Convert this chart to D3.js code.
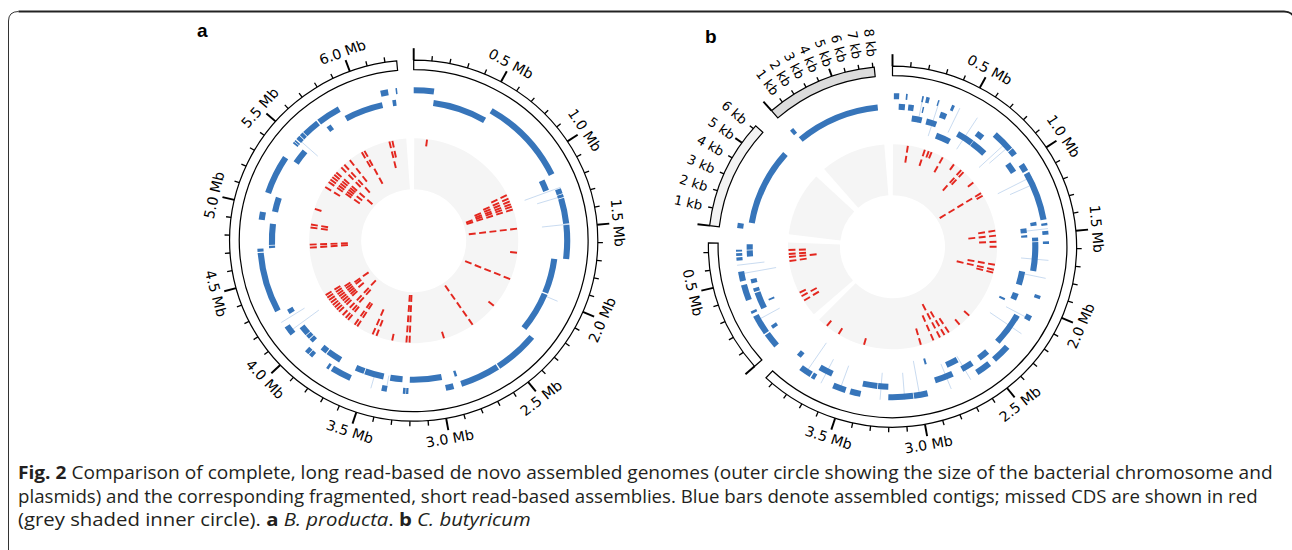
<!DOCTYPE html>
<html>
<head>
<meta charset="utf-8">
<script src="https://cdn.jsdelivr.net/npm/d3@7"></script>
<style>
  body { margin: 0; background: #fff; }
  svg { display: block; }
  text { white-space: pre; }
</style>
</head>
<body>
<svg id="fig" width="1292" height="550"></svg>
<script>
// ---------- panel a: B. producta, one chromosome (Mb) ----------
const seqA = ["chr"];
const seqLenA = [6.265];
const seqUnitA = ["Mb"];
// assembled contigs: [start, end, track]
const contigsA = [
  [0.000,0.134,0],[0.141,0.530,1],[0.535,1.130,0],[1.139,1.219,1],
  [1.236,1.272,0],[1.277,1.298,0],[1.303,1.475,0],[1.484,1.713,0],
  [1.722,1.978,1],[1.987,2.278,1],[2.291,2.587,0],[2.596,2.861,0],
  [2.870,2.888,1],[2.914,2.967,0],[2.979,3.207,1],[3.214,3.229,0],
  [3.233,3.250,0],[3.259,3.347,1],[3.356,3.391,0],[3.395,3.532,1],
  [3.538,3.603,1],[3.608,3.744,0],[3.727,3.833,1],[3.762,3.780,0],
  [3.841,3.886,1],[3.894,3.921,0],[3.926,3.956,0],[3.960,3.991,1],
  [3.997,4.027,1],[4.032,4.097,1],[4.095,4.160,0],[4.221,4.256,1],
  [4.278,4.687,0],[4.694,4.716,0],[4.716,4.733,1],[4.739,4.892,1],
  [4.910,4.963,0],[4.981,5.087,1],[5.095,5.360,0],[5.369,5.475,1],
  [5.466,5.478,0],[5.482,5.493,0],[5.502,5.530,0],[5.535,5.560,0],
  [5.565,5.678,0],[5.705,5.740,1],[5.687,5.846,0],[5.855,6.134,1],
  [6.140,6.190,0],[6.208,6.234,1],[6.240,6.250,0]
];
// missed CDS: [position, stacked rows]
const missedA = [
  [0.13,1],[1.12,2],[1.16,3],[1.19,4],[1.22,4],[1.245,5],[1.275,5],[1.47,5],
  [1.71,1],[1.98,5],[2.29,1],[2.57,5],[2.88,1],[3.22,5],[3.25,5],[3.39,1],
  [3.55,2],[3.59,3],[3.76,3],[3.79,3],[3.87,2],[3.90,4],[3.94,5],[3.99,2],
  [4.02,3],[4.05,4],[4.08,3],[4.11,4],[4.14,5],[4.17,3],[4.20,2],[4.70,4],
  [4.73,4],[4.90,2],[4.93,2],[5.09,1],[5.33,2],[5.39,4],[5.42,3],[5.45,4],
  [5.48,3],[5.51,5],[5.58,3],[5.62,4],[5.69,3],[5.83,2],[5.86,4],[6.12,3],
  [6.15,2]
];
// tiny contigs shown as hairlines: [position, depth in tracks]
const faintA = [[1.23,3],[1.29,2],[1.48,2],[2.00,1],[3.36,1],[3.46,1],[4.12,3],[4.20,2],[5.51,2]];

// ---------- panel b: C. butyricum, two chromosomes (Mb) + two plasmids (kb) ----------
const seqB = ["chr1", "chr2", "p1", "p2"];
const seqLenB = [3.946, 0.754, 6.2, 8.1];
const seqUnitB = ["Mb", "Mb", "kb", "kb"];
const contigsB = [
  ["chr1",0.009,0.044,0],["chr1",0.088,0.099,0],["chr1",0.194,0.205,0],["chr1",0.221,0.244,0],
  ["chr1",0.300,0.309,0],["chr1",0.396,0.415,0],["chr1",0.738,0.880,0],["chr1",0.886,0.929,0],
  ["chr1",1.007,1.060,0],["chr1",1.074,1.408,0],["chr1",1.431,1.448,0],["chr1",1.484,1.510,0],
  ["chr1",1.554,1.572,0],["chr1",1.920,1.943,0],["chr1",2.066,2.102,0],["chr1",2.326,2.448,0],
  ["chr1",2.490,2.591,0],["chr1",2.946,3.038,0],["chr1",3.043,3.207,0],["chr1",3.391,3.462,0],
  ["chr1",3.493,3.580,0],["chr1",3.709,3.735,0],["chr1",3.744,3.825,0],
  ["chr1",0.044,0.088,1],["chr1",0.111,0.150,1],["chr1",0.212,0.222,1],["chr1",0.343,0.389,1],
  ["chr1",0.636,0.689,1],["chr1",0.950,1.024,1],["chr1",1.413,1.439,1],["chr1",1.524,1.551,1],
  ["chr1",1.557,1.766,1],["chr1",2.107,2.345,1],["chr1",2.446,2.522,1],["chr1",2.582,2.667,1],
  ["chr1",2.741,2.874,1],["chr1",3.209,3.282,1],["chr1",3.287,3.391,1],["chr1",3.619,3.718,1],
  ["chr1",3.868,3.903,1],
  ["chr1",0.148,0.226,2],["chr1",0.261,0.341,2],["chr1",0.521,0.650,2],["chr1",0.653,0.777,2],
  ["chr1",1.448,1.484,2],["chr1",1.501,1.519,2],["chr1",1.784,1.890,2],["chr1",1.960,2.013,2],
  ["chr1",2.662,2.755,2],
  ["chr1",0.371,0.495,3],["chr1",2.031,2.049,3],["chr1",2.897,2.914,3],
  ["chr2",0.009,0.108,0],["chr2",0.118,0.254,0],["chr2",0.274,0.291,0],["chr2",0.367,0.475,0],
  ["chr2",0.500,0.565,0],["chr2",0.640,0.662,0],["chr2",0.671,0.689,0],["chr2",0.700,0.712,0],
  ["chr2",0.115,0.141,1],["chr2",0.274,0.397,1],["chr2",0.406,0.433,1],["chr2",0.470,0.500,1],
  ["chr2",0.662,0.706,1],["chr2",0.712,0.751,1],["chr2",0.309,0.323,2],
  ["p1",0.05,0.40,0],["p1",0.54,6.10,1],
  ["p2",0.05,0.40,0],["p2",0.25,8.05,1]
];
const missedB = [
  ["chr1",0.15,2],["chr1",0.32,2],["chr1",0.36,1],["chr1",0.39,1],["chr1",0.51,2],["chr1",0.64,1],
  ["chr1",0.73,3],["chr1",0.76,2],["chr1",0.90,1],["chr1",1.03,5],["chr1",1.06,1],["chr1",1.43,2],
  ["chr1",1.48,3],["chr1",1.54,2],["chr1",1.59,1],["chr1",1.77,3],["chr1",1.82,4],["chr1",1.85,2],
  ["chr1",2.34,1],["chr1",2.47,1],["chr1",2.60,2],["chr1",2.65,3],["chr1",2.70,4],["chr1",2.77,3],
  ["chr1",2.90,2],["chr1",3.46,1],["chr1",3.73,1],["chr1",3.87,1],
  ["chr2",0.17,2],["chr2",0.22,2],["chr2",0.26,1],["chr2",0.59,2],["chr2",0.63,3],["chr2",0.66,2],
  ["chr2",0.70,2]
];
const faintB = [
  ["chr1",0.20,2],["chr1",0.31,3],["chr1",0.45,2],["chr1",0.58,3],["chr1",0.83,3],["chr1",0.86,2],
  ["chr1",1.11,3],["chr1",1.16,2],["chr1",1.47,2],["chr1",1.68,2],["chr1",1.80,2],["chr1",2.09,2],
  ["chr1",2.20,3],["chr1",2.65,2],["chr1",2.79,2],["chr1",3.00,3],["chr1",3.10,2],["chr1",3.26,2],
  ["chr1",3.53,2],["chr1",3.66,2],["chr1",3.78,3],["chr2",0.22,2],["chr2",0.55,3],["chr2",0.61,2]
];

// layout (angles in degrees, clockwise from 12 o'clock)
const layoutA = { cx: 413.7, cy: 240.7, spans: [[0, 354.7]], fills: ["#fff"], tracks: [150.5, 139] };
const layoutB = {
  cx: 892.5, cy: 246.7,
  spans: [[0, 223.4], [228.5, 271.2], [276.7, 312.0], [318.9, 354.3]],
  fills: ["#fff", "#fff", "#f3f3f3", "#dcdcdc"],
  tracks: [150.5, 140, 129.5, 119]
};

const BLUE = "#3775ba", RED = "#e3261e", FAINT = "#bcd2ec", GREY = "#f5f5f5";
const DEG = Math.PI / 180;
const pt = (r, deg) => [r * Math.sin(deg * DEG), -r * Math.cos(deg * DEG)];
const svg = d3.select("#fig");
const arc = d3.arc();

function drawPanel(L, names, lens, units, contigs, missed, faint) {
  const g = svg.append("g").attr("transform", `translate(${L.cx},${L.cy}) scale(1.02,1)`);
  const scale = {};
  names.forEach((n, i) => {
    scale[n] = d3.scaleLinear().domain([0, lens[i]]).range(L.spans[i]);
  });

  // grey inner sectors
  names.forEach((n, i) => {
    const [a0, a1] = L.spans[i];
    g.append("path")
      .attr("d", arc({innerRadius: 51.5, outerRadius: 102.5, startAngle: (a0 + 0.3) * DEG, endAngle: (a1 + 1.2) * DEG}))
      .attr("fill", GREY);
  });

  // missed CDS, stacked radially from the outer edge
  const red = g.append("g").attr("stroke", RED).attr("stroke-width", 1.9);
  missed.forEach(m => {
    const a = scale[m[0]](m[1]);
    for (let k = 0; k < m[2]; k++) {
      const r1 = 102 - k * 10.2, r2 = r1 - 6.8;
      const p1 = pt(r1, a), p2 = pt(r2, a);
      red.append("line").attr("x1", p1[0]).attr("y1", p1[1]).attr("x2", p2[0]).attr("y2", p2[1]);
    }
  });

  // hairline tiny contigs
  const fl = g.append("g").attr("stroke", FAINT).attr("stroke-width", 0.8);
  faint.forEach(f => {
    const a = scale[f[0]](f[1]);
    const p1 = pt(L.tracks[0] + 3, a), p2 = pt(L.tracks[0] - 3 - f[2] * 10.5, a);
    fl.append("line").attr("x1", p1[0]).attr("y1", p1[1]).attr("x2", p2[0]).attr("y2", p2[1]);
  });

  // contigs
  g.append("g").selectAll("path").data(contigs).join("path")
    .attr("d", c => {
      const s = scale[c[0]];
      let a0 = s(c[1]), a1 = s(c[2]);
      if (a1 - a0 < 0.3) a1 = a0 + 0.3;
      const r = L.tracks[c[3]];
      return arc({innerRadius: r - 3, outerRadius: r + 3, startAngle: a0 * DEG, endAngle: a1 * DEG});
    })
    .attr("fill", BLUE);

  // outer ideogram ring, ticks and labels
  names.forEach((n, i) => {
    const [a0, a1] = L.spans[i];
    g.append("path")
      .attr("d", arc({innerRadius: 171, outerRadius: 180.5, startAngle: a0 * DEG, endAngle: a1 * DEG}))
      .attr("fill", L.fills[i]).attr("stroke", "#000").attr("stroke-width", 1.2);

    const kb = units[i] === "kb";
    const step = kb ? 1 : 0.1;
    const ticks = d3.range(0, Math.floor(lens[i] / step + 1e-6) + 1);
    const tg = g.append("g").attr("stroke", "#000");
    ticks.forEach(k => {
      const a = scale[n](k * step);
      const major = k % 5 === 0;
      const len = k === 0 ? 12 : (kb ? (major ? 8 : 4.5) : (major ? 12 : 5));
      const p1 = pt(180.5, a), p2 = pt(180.5 + len, a);
      tg.append("line").attr("x1", p1[0]).attr("y1", p1[1]).attr("x2", p2[0]).attr("y2", p2[1])
        .attr("stroke-width", major ? 1.9 : 1.3);
      if (k === 0) return;
      if (kb) {
        const [x, y] = pt(191, a);
        g.append("text").attr("x", x).attr("y", y)
          .attr("transform", `rotate(${a + 90},${x},${y})`)
          .attr("text-anchor", "end").attr("dominant-baseline", "central")
          .attr("font-family", "DejaVu Sans").attr("font-size", 13)
          .text(`${k} kb`);
      } else if (major) {
        const [x, y] = pt(201, a);
        const rot = (a > 90 && a < 270) ? a - 180 : a;
        g.append("text").attr("x", x).attr("y", y)
          .attr("transform", `rotate(${rot},${x},${y})`)
          .attr("text-anchor", "middle").attr("dominant-baseline", "central")
          .attr("font-family", "DejaVu Sans").attr("font-size", 14)
          .text(`${d3.format(".1f")(k * step)} Mb`);
      }
    });
  });
}

drawPanel(layoutA, seqA, seqLenA, seqUnitA, contigsA.map(c => ["chr", ...c]),
  missedA.map(m => ["chr", ...m]), faintA.map(f => ["chr", ...f]));
drawPanel(layoutB, seqB, seqLenB, seqUnitB, contigsB, missedB, faintB);

// panel letters
svg.append("text").attr("x", 197).attr("y", 37).text("a")
  .attr("font-family", "Liberation Sans, Arial, sans-serif").attr("font-weight", "bold").attr("font-size", 19);
svg.append("text").attr("x", 705).attr("y", 42.5).text("b")
  .attr("font-family", "Liberation Sans, Arial, sans-serif").attr("font-weight", "bold").attr("font-size", 19);

// frame
svg.append("path").attr("d", "M8.5,560 V21 Q8.5,11.5 18.5,11.5").attr("fill", "none").attr("stroke", "#333").attr("stroke-width", 1);
svg.append("path").attr("d", "M18.5,11.5 H1284 Q1291,11.5 1294,17").attr("fill", "none").attr("stroke", "#222").attr("stroke-width", 2);

// caption
const captionLines = [
  [["Fig. 2", "b"], [" Comparison of complete, long read-based de novo assembled genomes (outer circle showing the size of the bacterial chromosome and", ""]],
  [["plasmids) and the corresponding fragmented, short read-based assemblies. Blue bars denote assembled contigs; missed CDS are shown in red", ""]],
  [["(grey shaded inner circle). ", ""], ["a", "b"], [" ", ""], ["B. producta", "i"], [". ", ""], ["b", "b"], [" ", ""], ["C. butyricum", "i"]]
];
const captionWidths = [1255, 1240, 513];
const captionBase = [479, 502.5, 526];
captionLines.forEach((line, i) => {
  const cg = svg.append("g");
  const t = cg.append("text").attr("x", 0).attr("y", 0)
    .attr("font-family", "Open Sans, sans-serif").attr("font-size", 18.5)
    .attr("fill", "#231f20");
  line.forEach(([s, st]) => {
    const sp = t.append("tspan").text(s);
    if (st === "b") sp.attr("font-weight", "bold");
    if (st === "i") sp.attr("font-style", "italic");
  });
  const w = t.node().getBBox().width;
  cg.attr("transform", `translate(18,${captionBase[i]}) scale(${captionWidths[i] / w},1)`);
});
</script>
</body>
</html>
